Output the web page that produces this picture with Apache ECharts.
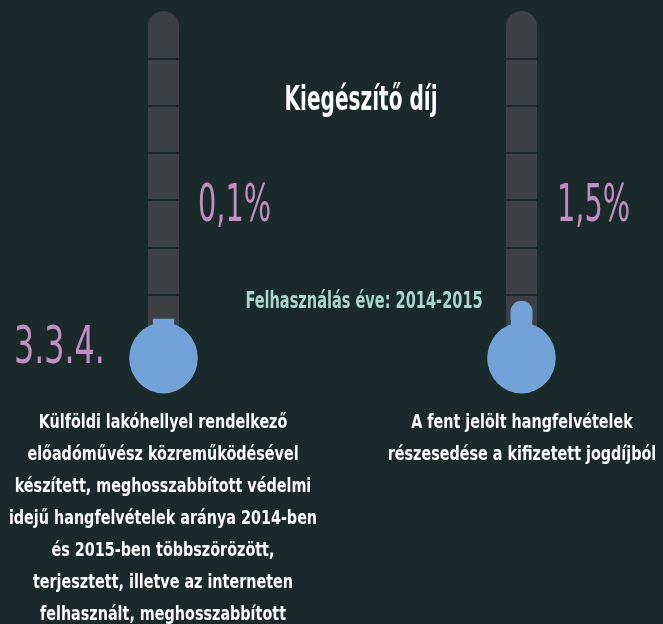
<!DOCTYPE html>
<html>
<head>
<meta charset="utf-8">
<script src="https://cdn.jsdelivr.net/npm/echarts@6/dist/echarts.min.js"></script>
<style>
  html, body { margin: 0; padding: 0; background: #1a2a2a; }
  #main { width: 663px; height: 624px; }
</style>
</head>
<body>
<div id="main"></div>
<script>
// adatok
var shares = [0.1, 1.5];                 // %
var shareLabels = ['0,1%', '1,5%'];
var scaleMax = 24;                       // % a cső tetején
var segmentCount = 7;                    // csőszegmensek
var sectionLabel = '3.3.4.';
var titleText = 'Kiegészítő díj';
var periodText = 'Felhasználás éve: 2014-2015';
var captions = [
    ['Külföldi lakóhellyel rendelkező',
     'előadóművész közreműködésével',
     'készített, meghosszabbított védelmi',
     'idejű hangfelvételek aránya 2014-ben',
     'és 2015-ben többszörözött,',
     'terjesztett, illetve az interneten',
     'felhasznált, meghosszabbított'],
    ['A fent jelölt hangfelvételek',
     'részesedése a kifizetett jogdíjból']
];

var BG = '#1a2a2a';
var TUBE = '#3c4043';
var BLUE = '#72a3d8';
var PURPLE = '#c08ec2';
var MINT = '#a9d8cb';
var FONT = '"DejaVu Sans Condensed", "DejaVu Sans", sans-serif';

var tubeLeft = [148, 506];
var myChart = echarts.init(document.getElementById('main'));

var grids = [], xAxes = [], yAxes = [], series = [];
// gömb + nyak
var bulbPath = 'path://M24.5 0H46.5V10H24.5Z M0 38A35.5 35.5 0 1 1 71 38A35.5 35.5 0 1 1 0 38Z';

tubeLeft.forEach(function (left, i) {
    grids.push({ left: left, width: 31, top: 11, bottom: 282 });   // cső
    grids.push({ left: left, width: 31, top: 11, bottom: 304 });   // érték
    xAxes.push({ gridIndex: 2 * i, type: 'category', data: ['t'], show: false });
    xAxes.push({ gridIndex: 2 * i + 1, type: 'category', data: ['t'], show: false });
    yAxes.push({
        gridIndex: 2 * i, type: 'value', min: 0, max: segmentCount, interval: 1, z: 2,
        axisLabel: { show: false }, axisLine: { show: false }, axisTick: { show: false },
        splitLine: { show: true, showMinLine: false, showMaxLine: false, lineStyle: { color: BG, width: 2 } }
    });
    yAxes.push({ gridIndex: 2 * i + 1, type: 'value', min: 0, max: scaleMax, show: false, splitLine: { show: false } });

    series.push({
        type: 'bar', xAxisIndex: 2 * i, yAxisIndex: 2 * i, barWidth: '100%', z: 1, silent: true,
        itemStyle: { color: TUBE, borderRadius: [15.5, 15.5, 0, 0] },
        data: [segmentCount]
    });
    series.push({
        type: 'bar', xAxisIndex: 2 * i + 1, yAxisIndex: 2 * i + 1, barWidth: 22, z: 3, silent: true,
        itemStyle: { color: BLUE, borderRadius: [11, 11, 0, 0] },
        data: [shares[i]]
    });
    series.push({
        type: 'scatter', xAxisIndex: 2 * i + 1, yAxisIndex: 2 * i + 1, z: 4, clip: false, silent: true,
        symbol: bulbPath, symbolSize: [71, 73.5], symbolKeepAspect: true, symbolOffset: [0, '50%'],
        itemStyle: { color: BLUE, opacity: 1 },
        data: [[0, 0]]
    });
});

// szöveg: méret, vízszintes és függőleges nyújtás
function txt(str, x, baseline, size, color, align, sx, sy, weight) {
    return {
        type: 'text', x: x, y: baseline - 0.36 * size * sy, scaleX: sx, scaleY: sy, z: 10, silent: true,
        style: {
            text: str, fill: color, font: (weight || 'normal') + ' ' + size + 'px ' + FONT,
            textAlign: align, textVerticalAlign: 'middle'
        }
    };
}

var graphics = [];
graphics.push(txt(titleText, 361, 113, 31, '#ffffff', 'center', 0.72, 1.1, 'bold'));
graphics.push(txt(shareLabels[0], 198, 226, 40, PURPLE, 'left', 0.8, 1.3));
graphics.push(txt(shareLabels[1], 557, 226, 40, PURPLE, 'left', 0.8, 1.3));
graphics.push(txt(sectionLabel, 14, 368, 43, PURPLE, 'left', 0.82, 1.2));
graphics.push(txt(periodText, 364, 310, 21, MINT, 'center', 0.77, 1.08, 'bold'));
var capX = [163, 522];
captions.forEach(function (lines, i) {
    lines.forEach(function (line, j) {
        graphics.push(txt(line, capX[i], 430 + 32 * j, 19, '#ffffff', 'center', 0.84, 1, 'bold'));
    });
});

option = {
    backgroundColor: BG,
    animation: false,
    grid: grids,
    xAxis: xAxes,
    yAxis: yAxes,
    series: series,
    graphic: graphics
};
myChart.setOption(option);
</script>
</body>
</html>
